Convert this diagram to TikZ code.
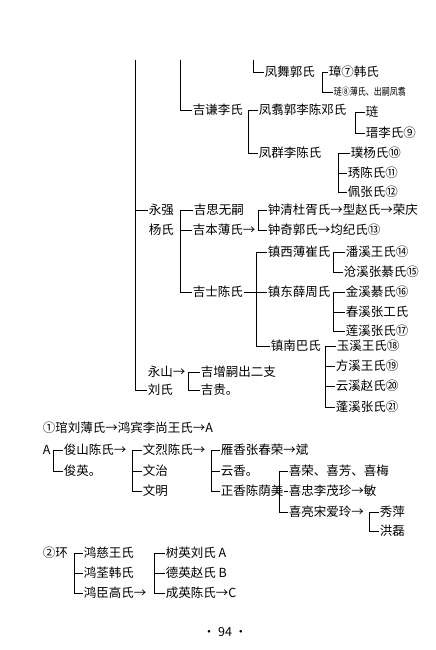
\documentclass[tikz,border=0pt]{standalone}
\usepackage{fontspec}
\setmainfont{Noto Sans CJK SC}
\begin{document}
\begin{tikzpicture}[x=1pt,y=-1pt,line width=0.7pt,
                    person/.style = {anchor=west, inner sep=0.5pt, font=\fontsize{12.5}{14}\selectfont},
                    tiny/.style = {anchor=west, inner sep=0.5pt, font=\fontsize{10}{12}\selectfont}]
    \useasboundingbox (0,0) rectangle (436,650);

    \coordinate (mtop) at (135,60);
    \coordinate (stop) at (180,60);
    \coordinate (ftop) at (253,60);

    \node[person] (fw) at (264,72) {凤舞郭氏};
    \node[person] (zh7) at (328,72) {璋⑦韩氏};
    \node[tiny] (l8) at (333,92) {\scalebox{0.8}[1]{琏⑧薄氏、出嗣凤翥}};
    \node[person] (jq) at (192,110) {吉谦李氏};
    \node[person] (fz) at (258,110) {凤翥郭李陈邓氏};
    \node[person] (lian) at (365,112) {琏};
    \node[person] (jin9) at (365,133) {瑨李氏⑨};
    \node[person] (fq) at (258,153) {凤群李陈氏};
    \node[person] (pu10) at (350,153) {璞杨氏⑩};
    \node[person] (xiu11) at (347,173) {琇陈氏⑪};
    \node[person] (pei12) at (347,192) {佩张氏⑫};

    \node[person] (yq) at (148,210) {永强};
    \node[person] (yqs) at (148,230) {杨氏};
    \node[person] (js) at (193,210) {吉思无嗣};
    \node[person] (jb) at (192,230) {吉本薄氏→};
    \node[person] (zq) at (267,210) {钟清杜胥氏→型赵氏→荣庆};
    \node[person] (zqi) at (267,230) {钟奇郭氏→均纪氏⑬};
    \node[person] (zx) at (267,252) {镇西薄崔氏};
    \node[person] (px14) at (345,252) {潘溪王氏⑭};
    \node[person] (cx15) at (343,272) {沧溪张綦氏⑮};
    \node[person] (jsh) at (192,292) {吉士陈氏};
    \node[person] (zd) at (267,292) {镇东薛周氏};
    \node[person] (jx16) at (345,292) {金溪綦氏⑯};
    \node[person] (cxz) at (345,312) {春溪张工氏};
    \node[person] (lx17) at (345,331) {莲溪张氏⑰};
    \node[person] (zn) at (270,346) {镇南巴氏};
    \node[person] (yx18) at (336,346) {玉溪王氏⑱};
    \node[person] (fx19) at (335,366) {方溪王氏⑲};
    \node[person] (yzx20) at (335,386) {云溪赵氏⑳};
    \node[person] (px21) at (335,407) {蓬溪张氏㉑};
    \node[person] (ys) at (147,372) {永山→};
    \node[person] (liu) at (147,390) {刘氏};
    \node[person] (jz) at (200,372) {吉增嗣出二支};
    \node[person] (jg) at (200,390) {吉贵。};

    \node[person] (r1) at (42,428) {①琯刘薄氏→鸿宾李尚王氏→A};
    \node[person] (a) at (42,450) {A};
    \node[person] (jsc) at (63,450) {俊山陈氏→};
    \node[person] (jy) at (63,471) {俊英。};
    \node[person] (wl) at (142,450) {文烈陈氏→};
    \node[person] (wz) at (142,471) {文治};
    \node[person] (wm) at (142,491) {文明};
    \node[person] (yxz) at (220,450) {雁香张春荣→斌};
    \node[person] (yunx) at (220,471) {云香。};
    \node[person] (zxc) at (220,491) {正香陈荫美};
    \node[person] (xr) at (288,471) {喜荣、喜芳、喜梅};
    \node[person] (xz) at (288,491) {喜忠李茂珍→敏};
    \node[person] (xl) at (288,512) {喜亮宋爱玲→};
    \node[person] (xp) at (379,512) {秀萍};
    \node[person] (hl) at (379,531) {洪磊};

    \node[person] (h2) at (42,553) {②环};
    \node[person] (hc) at (83,553) {鸿慈王氏};
    \node[person] (hq) at (83,573) {鸿荃韩氏};
    \node[person] (hch) at (83,593) {鸿臣高氏→};
    \node[person] (sy) at (165,553) {树英刘氏 A};
    \node[person] (dy) at (165,573) {德英赵氏 B};
    \node[person] (cy) at (165,593) {成英陈氏→C};
    \node[person, anchor=center] (pg) at (225,632) {· 94 ·};

    \draw (mtop) |- (liu.west);
    \draw (stop) |- (jq.west);
    \draw (ftop) |- (fw.west);
    \draw (zh7.west) -- ++(-6,0) |- (l8.west);
    \draw (fz.west) -- ++(-10,0) |- (fq.west);
    \draw (lian.west) -- ++(-10,0) |- (jin9.west);
    \draw (pu10.west) -- ++(-12,0) coordinate (b3) |- (pei12.west);
    \draw (xiu11.west) -- (xiu11.west -| b3);

    \draw (yq.west -| mtop) -- (yq.west);
    \draw (js.west) -- ++(-13,0) coordinate (b4) |- (jsh.west);
    \draw (jb.west) -- (jb.west -| b4);
    \draw (zq.west) -- ++(-9,0) |- (zqi.west);
    \draw (zx.west) -- ++(-11,0) coordinate (b5) |- (zn.west);
    \draw (jsh.east) -- (zd.west);
    \draw (px14.west) -- ++(-12,0) |- (cx15.west);
    \draw (jx16.west) -- ++(-12,0) coordinate (b6) |- (lx17.west);
    \draw (cxz.west) -- (cxz.west -| b6);
    \draw (yx18.west) -- ++(-11,0) coordinate (b7) |- (px21.west);
    \draw (fx19.west) -- (fx19.west -| b7);
    \draw (yzx20.west) -- (yzx20.west -| b7);
    \draw (jz.west) -- ++(-12,0) |- (jg.west);

    \draw (jsc.west) -- ++(-10,0) |- (jy.west);
    \draw (wl.west) -- ++(-10,0) coordinate (b8) |- (wm.west);
    \draw (wz.west) -- (wz.west -| b8);
    \draw (yxz.west) -- ++(-9,0) coordinate (b9) |- (zxc.west);
    \draw (yunx.west) -- (yunx.west -| b9);
    \draw (xr.west) -- ++(-9,0) coordinate (b10) |- (xl.west);
    \draw (zxc.east) -- (xz.west);
    \draw (xp.west) -- ++(-10,0) |- (hl.west);

    \draw (hc.west) -- ++(-9,0) coordinate (b11) |- (hch.west);
    \draw (hq.west) -- (hq.west -| b11);
    \draw (sy.west) -- ++(-11,0) coordinate (b12) |- (cy.west);
    \draw (dy.west) -- (dy.west -| b12);
\end{tikzpicture}
\end{document}
